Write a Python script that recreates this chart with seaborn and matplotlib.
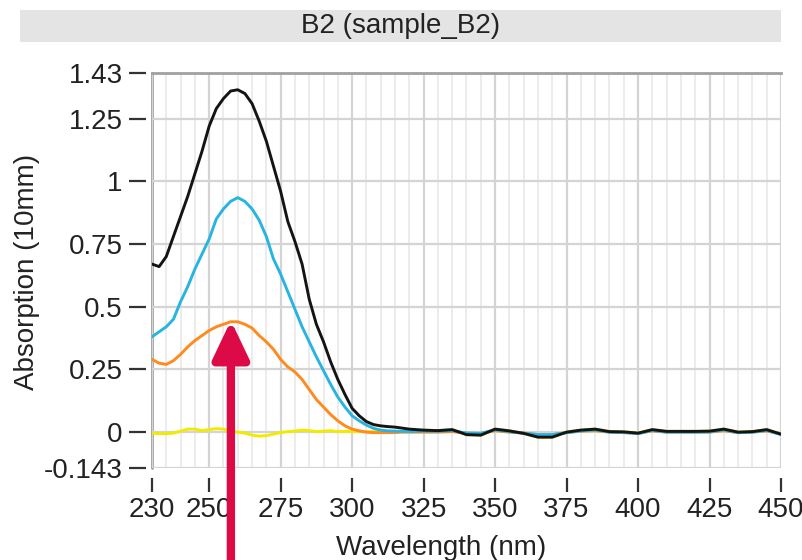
#!/usr/bin/env python3
"""
UV absorption spectrum for well B2 (sample_B2)
"""

import matplotlib
matplotlib.use("Agg")
import matplotlib.pyplot as plt
from matplotlib.patches import Rectangle
import seaborn as sns
import pandas as pd

# sampling grid (nm)
wavelength = [230, 232.5, 235, 237.5, 240, 242.5, 245, 247.5, 250, 252.5,
              255, 257.5, 260, 262.5, 265, 267.5, 270, 272.5, 275, 277.5,
              280, 282.5, 285, 287.5, 290, 292.5, 295, 297.5, 300, 302.5,
              305, 307.5, 310, 312.5, 315, 317.5, 320,
              325, 330, 335, 340, 345, 350, 355, 360, 365, 370, 375, 380,
              385, 390, 395, 400, 405, 410, 415, 420, 425, 430, 435, 440,
              445, 450]

abs_black = [0.67, 0.66, 0.70, 0.78, 0.86, 0.94, 1.03, 1.12, 1.22, 1.29,
             1.33, 1.36, 1.365, 1.35, 1.31, 1.24, 1.16, 1.06, 0.96, 0.84,
             0.76, 0.67, 0.53, 0.43, 0.36, 0.28, 0.21, 0.15, 0.095, 0.065,
             0.042, 0.030, 0.025, 0.022, 0.020, 0.016, 0.012,
             0.008, 0.006, 0.010, -0.010, -0.012, 0.012, 0.005, -0.005, -0.020,
             -0.020, 0.000, 0.008, 0.012, 0.002, 0.001, -0.004, 0.010, 0.003,
             0.003, 0.003, 0.004, 0.012, 0.000, 0.002, 0.010, -0.008]

abs_cyan = [0.38, 0.40, 0.42, 0.45, 0.52, 0.58, 0.65, 0.71, 0.77, 0.85,
            0.89, 0.92, 0.935, 0.92, 0.89, 0.845, 0.78, 0.69, 0.63, 0.56,
            0.49, 0.42, 0.36, 0.30, 0.245, 0.19, 0.14, 0.10, 0.065, 0.045,
            0.028, 0.015, 0.008, 0.005, 0.004, 0.003, 0.002,
            0.004, 0.003, 0.006, -0.004, -0.005, 0.009, 0.002, -0.004, -0.010,
            -0.010, -0.002, 0.005, 0.009, 0.000, -0.001, -0.006, 0.007, 0.000,
            0.000, 0.000, 0.001, 0.009, -0.002, 0.000, 0.007, -0.010]

abs_orange = [0.29, 0.275, 0.27, 0.285, 0.31, 0.34, 0.365, 0.385, 0.405, 0.42,
              0.43, 0.44, 0.44, 0.43, 0.415, 0.385, 0.36, 0.33, 0.29, 0.26,
              0.24, 0.21, 0.17, 0.13, 0.10, 0.07, 0.045, 0.025, 0.012, 0.005,
              0.000, -0.002, -0.002, -0.002, -0.002, 0.000, 0.000,
              0.000, 0.000, 0.002, -0.004, -0.005, 0.006, 0.000, -0.004, -0.010,
              -0.010, -0.002, 0.004, 0.006, 0.000, -0.002, -0.005, 0.005, 0.000,
              0.000, 0.000, 0.000, 0.006, -0.002, 0.000, 0.005, -0.008]

abs_yellow = [-0.004, -0.006, -0.006, -0.004, 0.004, 0.012, 0.012, 0.006, 0.010, 0.014,
              0.012, 0.004, 0.000, -0.004, -0.012, -0.016, -0.014, -0.008, -0.002, 0.002,
              0.004, 0.008, 0.006, 0.002, 0.004, 0.006, 0.002, 0.003, 0.002, 0.002,
              0.002, 0.002, 0.002, 0.002, 0.002, 0.002, 0.002,
              0.008, 0.006, 0.010, -0.010, -0.012, 0.012, 0.005, -0.005, -0.020,
              -0.020, 0.000, 0.008, 0.012, 0.002, 0.001, -0.004, 0.010, 0.003,
              0.003, 0.003, 0.004, 0.012, 0.000, 0.002, 0.010, -0.008]

series_names = ["yellow", "orange", "cyan", "black"]
series_colors = ["#f2ea00", "#ff8a1e", "#28b4e0", "#141414"]

x_ticks = [230, 250, 275, 300, 325, 350, 375, 400, 425, 450]
y_ticks = [-0.143, 0, 0.25, 0.5, 0.75, 1, 1.25, 1.43]
y_tick_labels = ["-0.143", "0", "0.25", "0.5", "0.75", "1", "1.25", "1.43"]

title_text = "B2 (sample_B2)"
x_label = "Wavelength (nm)"
y_label = "Absorption (10mm)"

# arrow pointing at the orange peak
arrow_x = 257.6
arrow_tip = 0.445

# long-form table for seaborn
values = {"yellow": abs_yellow, "orange": abs_orange,
          "cyan": abs_cyan, "black": abs_black}
df = pd.concat([pd.DataFrame({"wavelength": wavelength,
                              "absorption": values[name],
                              "series": name}) for name in series_names],
               ignore_index=True)

sns.set_style("white")
plt.rcParams['font.family'] = ['Liberation Sans', 'DejaVu Sans']

fig = plt.figure(figsize=(8.02, 5.60), dpi=100)
ax = fig.add_axes([0.1895, 0.1643, 0.7843, 0.7045])

sns.lineplot(data=df, x="wavelength", y="absorption", hue="series",
             hue_order=series_names, palette=dict(zip(series_names, series_colors)),
             linewidth=2.1, legend=False, ax=ax, estimator=None, sort=False)

ax.set_xlim(230, 450)
ax.set_ylim(-0.143, 1.43)

# ticks and grid
ax.set_xticks(x_ticks)
ax.set_xticks([v for v in range(235, 450, 5) if v not in x_ticks], minor=True)
ax.set_yticks(y_ticks)
ax.set_yticklabels(y_tick_labels)
ax.tick_params(axis='both', which='major', labelsize=20, labelcolor='#222222',
               color='#333333', direction='out', width=1.6,
               bottom=True, left=True, top=False, right=False)
ax.tick_params(axis='x', which='major', length=10, pad=4)
ax.tick_params(axis='y', which='major', length=12, pad=5)
ax.tick_params(which='minor', length=0)

ax.grid(which='major', axis='both', color='#d4d4d4', linewidth=1.6)
ax.grid(which='minor', axis='x', color='#ececec', linewidth=1.4)
ax.set_axisbelow(True)
ax.yaxis.get_major_ticks()[0].gridline.set_visible(False)

# spines: gray top/left, ticks detached from the frame
for side in ['right', 'bottom', 'left']:
    ax.spines[side].set_visible(False)
ax.spines['left'].set_position(('outward', 4))
ax.spines['bottom'].set_position(('outward', 7))
ax.spines['top'].set_color('#a0a0a0')
ax.spines['top'].set_linewidth(2)
ax.axvline(230, color='#a0a0a0', linewidth=2, zorder=0.5, clip_on=False)

# axis labels
ax.set_xlabel(x_label, fontsize=20, color='#222222')
ax.xaxis.label.set_va('center')
ax.xaxis.set_label_coords((441 - 152) / 629, -(548 - 468) / 394.5)
ax.set_ylabel(y_label, fontsize=20, color='#222222')
ax.yaxis.label.set_va('center')
ax.yaxis.set_label_coords(-(152 - 27) / 629, (468 - 272) / 394.5)

# title strip
fig.patches.append(Rectangle((20 / 802, 1 - 42 / 560), 761 / 802, 32 / 560,
                             transform=fig.transFigure, facecolor='#e4e4e4',
                             edgecolor='none', zorder=0))
fig.text(400.5 / 802, 1 - 26 / 560, title_text, fontsize=20, color='#222222',
         ha='center', va='center')

# red arrow
ax.annotate('', xy=(arrow_x, arrow_tip), xycoords='data',
            xytext=(arrow_x, -0.60), textcoords='data',
            annotation_clip=False,
            arrowprops=dict(arrowstyle='-|>,head_length=1.05,head_width=0.5',
                            mutation_scale=22, color='#dc0a46', lw=6,
                            shrinkA=0, shrinkB=0))

plt.savefig('out.png', dpi=100)
